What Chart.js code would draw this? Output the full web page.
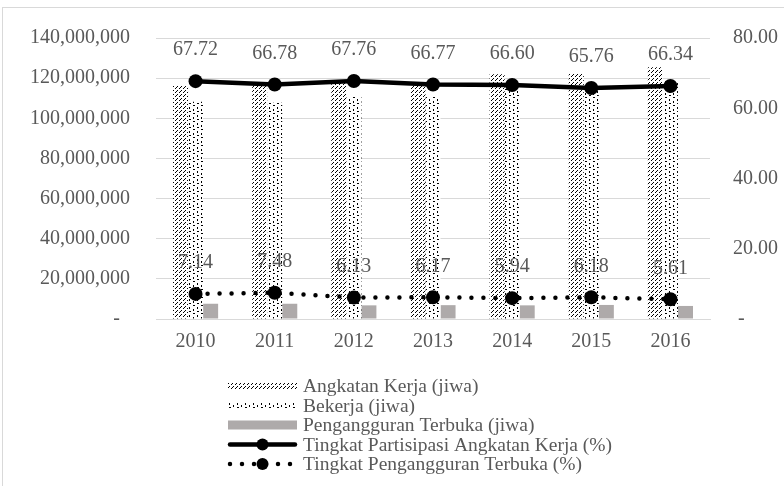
<!DOCTYPE html>
<html>
<head>
<meta charset="utf-8">
<script src="https://cdn.jsdelivr.net/npm/chart.js@4/dist/chart.umd.min.js"></script>
<style>
  html, body { margin: 0; padding: 0; background: #fff; }
  #wrap { width: 784px; height: 486px; }
</style>
</head>
<body>
<div id="wrap"><canvas id="labourChart" width="784" height="486"></canvas></div>
<script>
const years = ["2010", "2011", "2012", "2013", "2014", "2015", "2016"];
const angkatanKerja = [116.5e6, 116.1e6, 118.1e6, 118.2e6, 121.9e6, 122.4e6, 125.4e6];
const bekerja = [108.2e6, 107.7e6, 110.8e6, 110.8e6, 114.6e6, 114.8e6, 118.4e6];
const pengangguran = [7.6e6, 7.6e6, 6.8e6, 6.9e6, 6.8e6, 7.0e6, 6.5e6];
const tpak = [67.72, 66.78, 67.76, 66.77, 66.60, 65.76, 66.34];
const tpt = [7.14, 7.48, 6.13, 6.17, 5.94, 6.18, 5.61];
const legendLabels = [
  "Angkatan Kerja (jiwa)",
  "Bekerja (jiwa)",
  "Pengangguran Terbuka (jiwa)",
  "Tingkat Partisipasi Angkatan Kerja (%)",
  "Tingkat Pengangguran Terbuka (%)",
];

const textColor = "#595959";
const gridColor = "#d9d9d9";
const greyBar = "#aeaaaa";
const serif = "'Liberation Serif', 'Times New Roman', serif";

function makePattern(size, draw) {
  const c = document.createElement("canvas");
  c.width = size;
  c.height = size;
  const g = c.getContext("2d");
  g.fillStyle = "#fff";
  g.fillRect(0, 0, size, size);
  g.fillStyle = "#000";
  draw(g, size);
  return g.createPattern(c, "repeat");
}

// dashed upward diagonal
const hatchFill = makePattern(8, (g, s) => {
  for (let y = 0; y < s; y++) {
    for (let x = 0; x < s; x++) {
      if ((x + y) % 4 === 3 && y % 4 !== 1) g.fillRect(x, y, 1, 1);
    }
  }
});

// small dots
const dotFill = makePattern(8, (g) => {
  g.fillRect(1, 1, 2, 1);
  g.fillRect(5, 3, 1, 2);
  g.fillRect(1, 5, 1, 2);
  g.fillRect(5, 7, 2, 1);
});

const frame = {
  id: "frame",
  beforeDraw(chart) {
    const ctx = chart.ctx;
    ctx.save();
    ctx.strokeStyle = gridColor;
    ctx.lineWidth = 1;
    ctx.strokeRect(2.5, 7.5, 820, 520);
    ctx.restore();
  },
};

const pointLabels = {
  id: "pointLabels",
  afterDatasetsDraw(chart) {
    const ctx = chart.ctx;
    ctx.save();
    ctx.font = "20px " + serif;
    ctx.fillStyle = textColor;
    ctx.textAlign = "center";
    ctx.textBaseline = "middle";
    chart.data.datasets.forEach((ds, i) => {
      if (ds.type !== "line") return;
      chart.getDatasetMeta(i).data.forEach((pt, j) => {
        ctx.fillText(ds.data[j].toFixed(2), pt.x, pt.y - 31);
      });
    });
    ctx.restore();
  },
};

const sideLegend = {
  id: "sideLegend",
  afterDraw(chart) {
    const ctx = chart.ctx;
    const x0 = 228, x1 = 297, tx = 303;
    const rows = [386, 405.5, 425, 444.5, 464];
    ctx.save();
    ctx.fillStyle = hatchFill;
    ctx.fillRect(x0, rows[0] - 3, x1 - x0, 6);
    ctx.fillStyle = dotFill;
    ctx.fillRect(x0, rows[1] - 3, x1 - x0, 6);
    ctx.fillStyle = greyBar;
    ctx.fillRect(x0, rows[2] - 4.5, x1 - x0, 9);

    ctx.strokeStyle = "#000";
    ctx.fillStyle = "#000";
    ctx.lineCap = "round";
    ctx.lineWidth = 4.5;
    ctx.beginPath();
    ctx.moveTo(x0 + 2, rows[3]);
    ctx.lineTo(x1 - 2, rows[3]);
    ctx.stroke();
    ctx.beginPath();
    ctx.arc((x0 + x1) / 2, rows[3], 6, 0, Math.PI * 2);
    ctx.fill();

    ctx.setLineDash([0, 12]);
    ctx.beginPath();
    ctx.moveTo(x0 + 2, rows[4]);
    ctx.lineTo(x1, rows[4]);
    ctx.stroke();
    ctx.setLineDash([]);
    ctx.beginPath();
    ctx.arc((x0 + x1) / 2, rows[4], 6, 0, Math.PI * 2);
    ctx.fill();

    ctx.font = "19.5px " + serif;
    ctx.fillStyle = textColor;
    ctx.textAlign = "left";
    ctx.textBaseline = "middle";
    legendLabels.forEach((t, i) => ctx.fillText(t, tx, rows[i] + 1));
    ctx.restore();
  },
};

const ctx = document.getElementById("labourChart").getContext("2d");
const labourChart = new Chart(ctx, {
  data: {
    labels: years,
    datasets: [
      { type: "bar", label: legendLabels[0], data: angkatanKerja, backgroundColor: hatchFill, yAxisID: "y", order: 2 },
      { type: "bar", label: legendLabels[1], data: bekerja, backgroundColor: dotFill, yAxisID: "y", order: 2 },
      { type: "bar", label: legendLabels[2], data: pengangguran, backgroundColor: greyBar, yAxisID: "y", order: 2 },
      {
        type: "line", label: legendLabels[3], data: tpak, yAxisID: "y1", order: 1,
        borderColor: "#000", backgroundColor: "#000", borderWidth: 4.5,
        pointRadius: 7, pointBorderWidth: 0, pointBackgroundColor: "#000", tension: 0,
      },
      {
        type: "line", label: legendLabels[4], data: tpt, yAxisID: "y1", order: 1,
        borderColor: "#000", backgroundColor: "#000", borderWidth: 4.5,
        borderDash: [0, 12], borderCapStyle: "round",
        pointRadius: 7, pointBorderWidth: 0, pointBackgroundColor: "#000", tension: 0,
      },
    ],
  },
  options: {
    responsive: false,
    animation: false,
    layout: { padding: { top: 37, left: 0, right: 0, bottom: 0 } },
    datasets: { bar: { categoryPercentage: 0.57, barPercentage: 1 } },
    plugins: { legend: { display: false }, tooltip: { enabled: false } },
    scales: {
      x: {
        grid: { display: false, drawTicks: false },
        border: { display: true, color: gridColor, width: 1 },
        ticks: { color: textColor, font: { family: serif, size: 20 }, padding: 11 },
        afterFit(scale) { scale.height = 167; },
      },
      y: {
        position: "left",
        min: 0, max: 140e6,
        grid: { color: gridColor, drawTicks: false },
        border: { display: false },
        ticks: {
          stepSize: 20e6, padding: 26, color: textColor,
          font: { family: serif, size: 20 },
          callback: (v) => (v === 0 ? "-  " : v.toLocaleString("en-US")),
        },
        afterFit(scale) { scale.width = 156; },
      },
      y1: {
        position: "right",
        min: 0, max: 80,
        grid: { display: false, drawTicks: false },
        border: { display: false },
        ticks: {
          stepSize: 20, padding: 23, color: textColor,
          font: { family: serif, size: 20 },
          callback: (v) => (v === 0 ? " -" : v.toFixed(2)),
        },
        afterFit(scale) { scale.width = 74; },
      },
    },
  },
  plugins: [frame, pointLabels, sideLegend],
});
</script>
</body>
</html>
